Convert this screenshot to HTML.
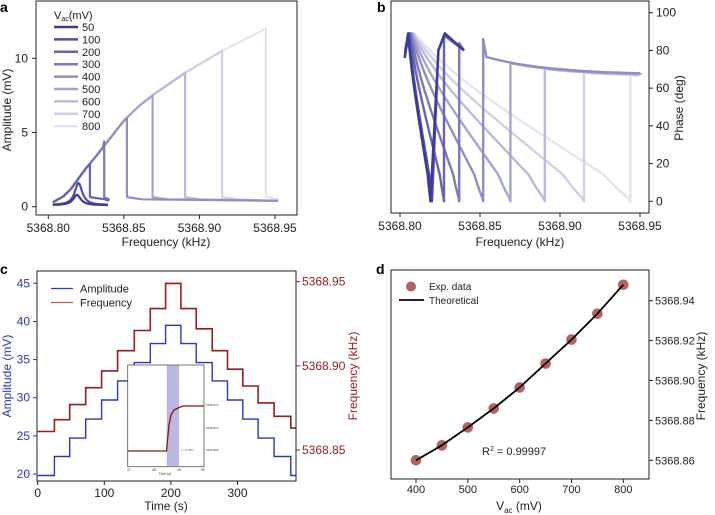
<!DOCTYPE html>
<html><head><meta charset="utf-8">
<style>
html,body{margin:0;padding:0;background:#fff;}
svg{display:block;font-family:"Liberation Sans",Arial,sans-serif;}
</style></head>
<body>
<svg id="fig" width="715" height="515" viewBox="0 0 715 515" xmlns="http://www.w3.org/2000/svg"></svg>
<script>
// ---------- data ----------
const vacLevels = [50,100,200,300,400,500,600,700,800];
const jumpFreqA = [5368.819,5368.820,5368.8275,5368.837,5368.852,5368.869,5368.8905,5368.915,5368.944];
const peakAmpA = [0.7,1.5,2.9,4.4,6.0,7.5,9.0,10.5,12.0];
const endFreqA = [5368.840,5368.840,5368.840,5368.840,5368.952,5368.952,5368.952,5368.952,5368.952];
const backboneFreq = [5368.803,5368.81,5368.815,5368.82,5368.825,5368.83,5368.84,5368.85,5368.86,5368.87,5368.89,5368.915,5368.944];
const backboneAmp = [0.3,0.7,1.2,1.9,2.6,3.2,4.5,5.8,6.8,7.6,9.0,10.5,12.0];
const aXTicks = [5368.80,5368.85,5368.90,5368.95];
const aYTicks = [0,5,10];
const bYTicks = [0,20,40,60,80,100];

const timeSteps = [0,25,48,72,96,120,145,169,192,215,238,262,285,308,331,355,380];
const ampLevels = [19.8,22.3,24.7,27.2,29.7,32.2,34.6,37.1,39.5,37.1,34.6,32.2,29.7,27.2,24.7,22.3,19.8];
const freqLevels = [5368.861,5368.868,5368.877,5368.887,5368.897,5368.909,5368.921,5368.934,5368.949,5368.934,5368.922,5368.909,5368.898,5368.888,5368.878,5368.870,5368.863];
const cXTicks = [0,100,200,300];
const cYTicks = [20,25,30,35,40,45];
const cY2Ticks = [5368.85,5368.90,5368.95];

const dVac = [400,450,500,550,600,650,700,750,800];
const dFreq = [5368.860,5368.8675,5368.8765,5368.886,5368.8965,5368.9085,5368.9205,5368.9335,5368.948];
const dXTicks = [400,500,600,700,800];
const dYTicks = [5368.86,5368.88,5368.90,5368.92,5368.94];

// ---------- helpers ----------
const svg = document.getElementById('fig');
const NS = 'http://www.w3.org/2000/svg';
function mk(tag, attrs, parent){
  const e = document.createElementNS(NS, tag);
  for (const k in attrs) e.setAttribute(k, attrs[k]);
  (parent||svg).appendChild(e);
  return e;
}
function txt(s, x, y, size, anchor, color, parent, rot){
  const t = mk('text', {x:x, y:y, 'font-size':size, 'text-anchor':anchor||'middle', fill:color||'#222'}, parent);
  if (rot) t.setAttribute('transform', 'rotate(' + rot + ' ' + x + ' ' + y + ')');
  t.textContent = s;
  return t;
}
function lin(d0,d1,r0,r1){ return v => r0 + (v-d0)*(r1-r0)/(d1-d0); }
function color(i){
  const t = i/(vacLevels.length-1);
  const r = Math.round(58 + t*(228-58)), g = Math.round(58 + t*(228-58)), b = Math.round(158 + t*(242-158));
  return 'rgb('+r+','+g+','+b+')';
}
function backbone(f){
  for (let i=0;i<backboneFreq.length-1;i++){
    if (f<=backboneFreq[i+1]){
      const t=(f-backboneFreq[i])/(backboneFreq[i+1]-backboneFreq[i]);
      return backboneAmp[i]+t*(backboneAmp[i+1]-backboneAmp[i]);
    }
  }
  return backboneAmp[backboneAmp.length-1];
}
function panelLetter(s,x,y){
  const t = txt(s,x,y,14,'start','#000');
  t.setAttribute('font-weight','bold');
  
  
}

// ================= Panel a =================
const ga = mk('g', {});


const ax = lin(5368.80,5368.95,48.3,275);
const ay = lin(0,10,206.7,58.3);
for (let i=vacLevels.length-1;i>=0;i--){
  const fj = jumpFreqA[i], pk = peakAmpA[i], fe = endFreqA[i];
  let d = '';
  const f0 = 5368.803;
  if (i<2){
    const w = 0.003;
    for (let f=f0; f<=fe; f+=0.0005){
      const a = 0.1 + pk/(1+((f-fj)/w)*((f-fj)/w)) ;
      d += (d?'L':'M') + ax(f).toFixed(1) + ' ' + ay(a).toFixed(1);
    }
  } else {
    const scale = pk/backbone(fj);
    for (let f=f0; f<=fj; f+=0.001){
      const a = backbone(f)*Math.min(1,scale) ;
      d += (d?'L':'M') + ax(f).toFixed(1) + ' ' + ay(a).toFixed(1);
    }
    d += 'L' + ax(fj).toFixed(1) + ' ' + ay(pk).toFixed(1);
    d += 'L' + ax(fj).toFixed(1) + ' ' + ay(0.65).toFixed(1);
    d += 'L' + ax(Math.min(fe,fj+0.01)).toFixed(1) + ' ' + ay(0.5).toFixed(1);
    d += 'L' + ax(fe).toFixed(1) + ' ' + ay(0.4).toFixed(1);
  }
  const p = mk('path', {d:d, fill:'none', stroke:color(i), 'stroke-width':2.2, 'stroke-linejoin':'round'}, ga);
  
  
}
mk('rect',{x:36,y:1,width:261,height:214,fill:'none',stroke:'#222','stroke-width':1},ga);
aXTicks.forEach(v=>{ mk('line',{x1:ax(v),x2:ax(v),y1:215,y2:219,stroke:'#222'},ga); txt(v.toFixed(2),ax(v),232,12,'middle','#222',ga); });
aYTicks.forEach(v=>{ mk('line',{x1:32,x2:36,y1:ay(v),y2:ay(v),stroke:'#222'},ga); txt(String(v),28,ay(v)+4,12,'end','#222',ga); });
txt('Frequency (kHz)',166,246,12,'middle','#222',ga);
txt('Amplitude (mV)',11,110,12,'middle','#222',ga,-90);
const la = mk('g',{},ga);


const lt = mk('text',{x:54,y:19,'font-size':11,fill:'#222'},la);
lt.innerHTML = 'V<tspan font-size="7" dy="2">ac</tspan><tspan dy="-2">(mV)</tspan>';
vacLevels.forEach((v,i)=>{
  const y = 27 + i*12.4;
  const l = mk('line',{x1:54,x2:78,y1:y,y2:y,stroke:color(i),'stroke-width':2.5},la);
  
  
  txt(String(v),82,y+4,11,'start','#222',la);
});
panelLetter('a',0,12);

// ================= Panel b =================
const gb = mk('g',{});


const bx = lin(5368.80,5368.95,400,640);
const by = lin(0,100,201.3,12.7);
function postPhase(f){ return 67 + 10*Math.exp(-(f-5368.852)/0.04); }
for (let i=vacLevels.length-1;i>=0;i--){
  const fj = jumpFreqA[i], fe = endFreqA[i];
  const fs = 5368.803, ftop = 5368.805 + i*0.0005;
  let d = 'M'+bx(fs).toFixed(1)+' '+by(76+i).toFixed(1);
  d += 'L'+bx(ftop).toFixed(1)+' '+by(89).toFixed(1);
  for (let k=1;k<=80;k++){
    const t = k/80;
    const f = ftop + t*(fj-ftop);
    let p = 79 - 74*t + 10*Math.pow(1-t,6);
    p = p*Math.sqrt(Math.min(1,(1-t)/0.12));
    d += 'L'+bx(f).toFixed(1)+' '+by(p).toFixed(1);
  }
  if (i<4){
    if (i<2){
      d += 'L'+bx(5368.824).toFixed(1)+' '+by(80).toFixed(1);
      d += 'L'+bx(5368.828).toFixed(1)+' '+by(89).toFixed(1);
      d += 'L'+bx(fe).toFixed(1)+' '+by(80).toFixed(1);
    } else {
      d += 'L'+bx(fj).toFixed(1)+' '+by(88 - (i-2)*4).toFixed(1);
      d += 'L'+bx(fe).toFixed(1)+' '+by(80).toFixed(1);
    }
  } else {
    d += 'L'+bx(fj).toFixed(1)+' '+by(i==4?86:postPhase(fj)).toFixed(1);
    for (let f=fj+0.002; f<=fe; f+=0.004){
      d += 'L'+bx(f).toFixed(1)+' '+by(postPhase(f)-(i-4)*0.3).toFixed(1);
    }
  }
  const p = mk('path',{d:d,fill:'none',stroke:color(i),'stroke-width':2.4,'stroke-linejoin':'round'},gb);
  
  
}
mk('rect',{x:391,y:1,width:258,height:212,fill:'none',stroke:'#222','stroke-width':1},gb);
aXTicks.forEach(v=>{ mk('line',{x1:bx(v),x2:bx(v),y1:213,y2:217,stroke:'#222'},gb); txt(v.toFixed(2),bx(v),230,12,'middle','#222',gb); });
bYTicks.forEach(v=>{ mk('line',{x1:649,x2:653,y1:by(v),y2:by(v),stroke:'#222'},gb); txt(String(v),656,by(v)+4,12,'start','#222',gb); });
txt('Frequency (kHz)',520,246,12,'middle','#222',gb);
txt('Phase (deg)',683,108,12,'middle','#222',gb,-90);
panelLetter('b',377,12);

// ================= Panel c =================
const gc = mk('g',{});


const cx = lin(0,100,37.7,104.3);
const cy = lin(20,45,474,283.3);
const cy2 = lin(5368.85,5368.95,450,281.7);
function stepPath(levels, yf){
  let d='';
  for (let i=0;i<levels.length;i++){
    const x0=cx(timeSteps[i]), x1=cx(i<levels.length-1?timeSteps[i+1]:388);
    d += (i?'L':'M')+x0.toFixed(1)+' '+yf(levels[i]).toFixed(1)+'L'+x1.toFixed(1)+' '+yf(levels[i]).toFixed(1);
  }
  return d;
}
const fp = mk('path',{d:stepPath(freqLevels,cy2),fill:'none',stroke:'#9b1b1b','stroke-width':1.6},gc);


const ap = mk('path',{d:stepPath(ampLevels,cy),fill:'none',stroke:'#2a35c8','stroke-width':1.4},gc);


const gi = mk('g',{},gc);


mk('rect',{x:127.7,y:365,width:76.3,height:101.7,fill:'#fff',stroke:'#555','stroke-width':0.8},gi);
mk('rect',{x:166.7,y:365.5,width:12.3,height:101,fill:'#b8b8e0'},gi);
mk('path',{d:'M128 451 L166.5 451 L167.5 440 L169 425 L171 415 L174 410 L178 408 L183 406 L203.5 406',fill:'none',stroke:'#8b1010','stroke-width':1.3},gi);
txt('47',129,471,3.5,'middle','#444',gi); txt('48',154,471,3.5,'middle','#444',gi);
txt('49',179,471,3.5,'middle','#444',gi); txt('50',203,471,3.5,'middle','#444',gi);
txt('Time (s)',165,475,3.5,'middle','#444',gi);
txt('5368.876',206,406,3,'start','#444',gi); txt('5368.872',206,429,3,'start','#444',gi); txt('5368.868',206,451,3,'start','#444',gi);
txt('τ = 0.48 s',181,451,3,'start','#444',gi);
mk('rect',{x:37,y:271,width:259,height:210,fill:'none',stroke:'#222','stroke-width':1},gc);
cXTicks.forEach(v=>{ mk('line',{x1:cx(v),x2:cx(v),y1:481,y2:485,stroke:'#222'},gc); txt(String(v),cx(v),497,12,'middle','#222',gc); });
cYTicks.forEach(v=>{ mk('line',{x1:33,x2:37,y1:cy(v),y2:cy(v),stroke:'#2a35c8'},gc); txt(String(v),30,cy(v)+4,12,'end','#2a35c8',gc); });
cY2Ticks.forEach(v=>{ mk('line',{x1:296,x2:300,y1:cy2(v),y2:cy2(v),stroke:'#9b1b1b'},gc); txt(v.toFixed(2),302,cy2(v)+4,12,'start','#9b1b1b',gc); });
txt('Time (s)',166,510,12,'middle','#222',gc);
txt('Amplitude (mV)',11,376,12,'middle','#2a35c8',gc,-90);
txt('Frequency (kHz)',357,376,12,'middle','#9b1b1b',gc,-90);
const lc = mk('g',{},gc);


mk('line',{x1:51,x2:73,y1:288.5,y2:288.5,stroke:'#2a35c8','stroke-width':1.2},lc);
txt('Amplitude',80,292.5,11,'start','#222',lc);
mk('line',{x1:51,x2:73,y1:302.5,y2:302.5,stroke:'#b35a5a','stroke-width':1.2},lc);
txt('Frequency',80,306.5,11,'start','#222',lc);
panelLetter('c',0,274);

// ================= Panel d =================
const gd = mk('g',{});


const dx = lin(400,800,416,623.3);
const dy = lin(5368.86,5368.94,460.3,300.7);
let dd='';
for (let i=0;i<dVac.length;i++){
  dd += (i?'L':'M')+dx(dVac[i]).toFixed(1)+' '+dy(dFreq[i]).toFixed(1);
}
dVac.forEach((v,i)=>{
  const c = mk('circle',{cx:dx(v),cy:dy(dFreq[i]),r:5.3,fill:'#b86060'},gd);
  
  
});
const th = mk('path',{d:dd,fill:'none',stroke:'#000','stroke-width':1.8,'stroke-linejoin':'round'},gd);


mk('rect',{x:391,y:270,width:258,height:209,fill:'none',stroke:'#222','stroke-width':1},gd);
dXTicks.forEach(v=>{ mk('line',{x1:dx(v),x2:dx(v),y1:479,y2:483,stroke:'#222'},gd); txt(String(v),dx(v),493,11,'middle','#222',gd); });
dYTicks.forEach(v=>{ mk('line',{x1:649,x2:653,y1:dy(v),y2:dy(v),stroke:'#222'},gd); txt(v.toFixed(2),655,dy(v)+4,11,'start','#222',gd); });
const dxl = mk('text',{x:519,y:510,'font-size':12,'text-anchor':'middle',fill:'#222'},gd);
dxl.innerHTML = 'V<tspan font-size="8" dy="3">ac</tspan><tspan dy="-3"> (mV)</tspan>';
txt('Frequency (kHz)',705,376,12,'middle','#222',gd,-90);
const r2 = mk('text',{x:482,y:455,'font-size':11,fill:'#222'},gd);
r2.innerHTML = 'R<tspan font-size="7" dy="-4">2</tspan><tspan dy="4"> = 0.99997</tspan>';
const ld = mk('g',{},gd);


mk('circle',{cx:411,cy:286.5,r:5,fill:'#b86060'},ld);
txt('Exp. data',429,290,10,'start','#222',ld);
mk('line',{x1:399,x2:424,y1:300,y2:300,stroke:'#000','stroke-width':1.8},ld);
txt('Theoretical',429,304,10,'start','#222',ld);
panelLetter('d',376,274);
</script>
</body></html>
